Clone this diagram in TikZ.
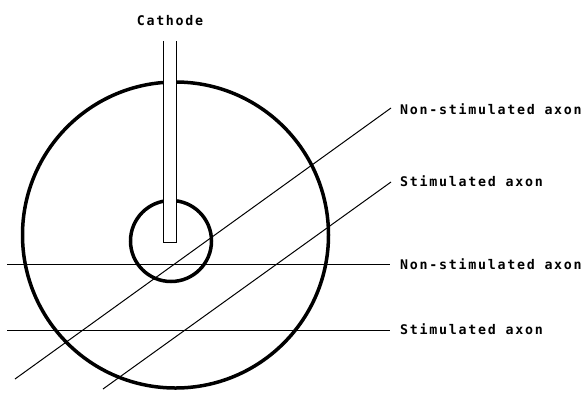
\documentclass[tikz,border=0pt]{standalone}
\usepackage{fontspec}
\newfontfamily\lblfont{DejaVu Sans Mono Bold}[LetterSpace=13]
\begin{document}
\begin{tikzpicture}[x=1pt,y=-1pt,
  ring/.style={draw,circle,line width=3.5pt,inner sep=0pt},
  axon/.style={line width=1pt},
  rodline/.style={line width=1pt},
  lbl/.style={font=\lblfont\fontsize{13.3pt}{15pt}\selectfont,inner sep=0pt,text height=9.7pt,text depth=0pt}]
\useasboundingbox (0,0) rectangle (583,392);
\node[ring,minimum size=306pt] (outer) at (175.5,235) {};
\node[ring,minimum size=81pt] (inner) at (171,241) {};
\node[fill=white,inner sep=0pt,minimum width=12pt,minimum height=201pt] (rod) at (170,141.5) {};
\draw[rodline] (rod.north west) -- (rod.south west) -- (rod.south east) -- (rod.north east);
\node[lbl] (cath) at (170,21) {Cathode};
\coordinate (d1a) at (15,379);
\coordinate (d1b) at (391,108);
\coordinate (d2a) at (103,389);
\coordinate (d2b) at (391,182);
\coordinate (h1a) at (7,264);
\coordinate (h1b) at (390,264);
\coordinate (h2a) at (7,330);
\coordinate (h2b) at (390,330);
\draw[axon] (d1a) -- (d1b);
\draw[axon] (d2a) -- (d2b);
\draw[axon] (h1a) -- (h1b);
\draw[axon] (h2a) -- (h2b);
\node[lbl,anchor=west] (l1) at (400,110) {Non-stimulated axon};
\node[lbl,anchor=west] (l2) at (400,182) {Stimulated axon};
\node[lbl,anchor=west] (l3) at (400,265) {Non-stimulated axon};
\node[lbl,anchor=west] (l4) at (400,330) {Stimulated axon};
\end{tikzpicture}
\end{document}
